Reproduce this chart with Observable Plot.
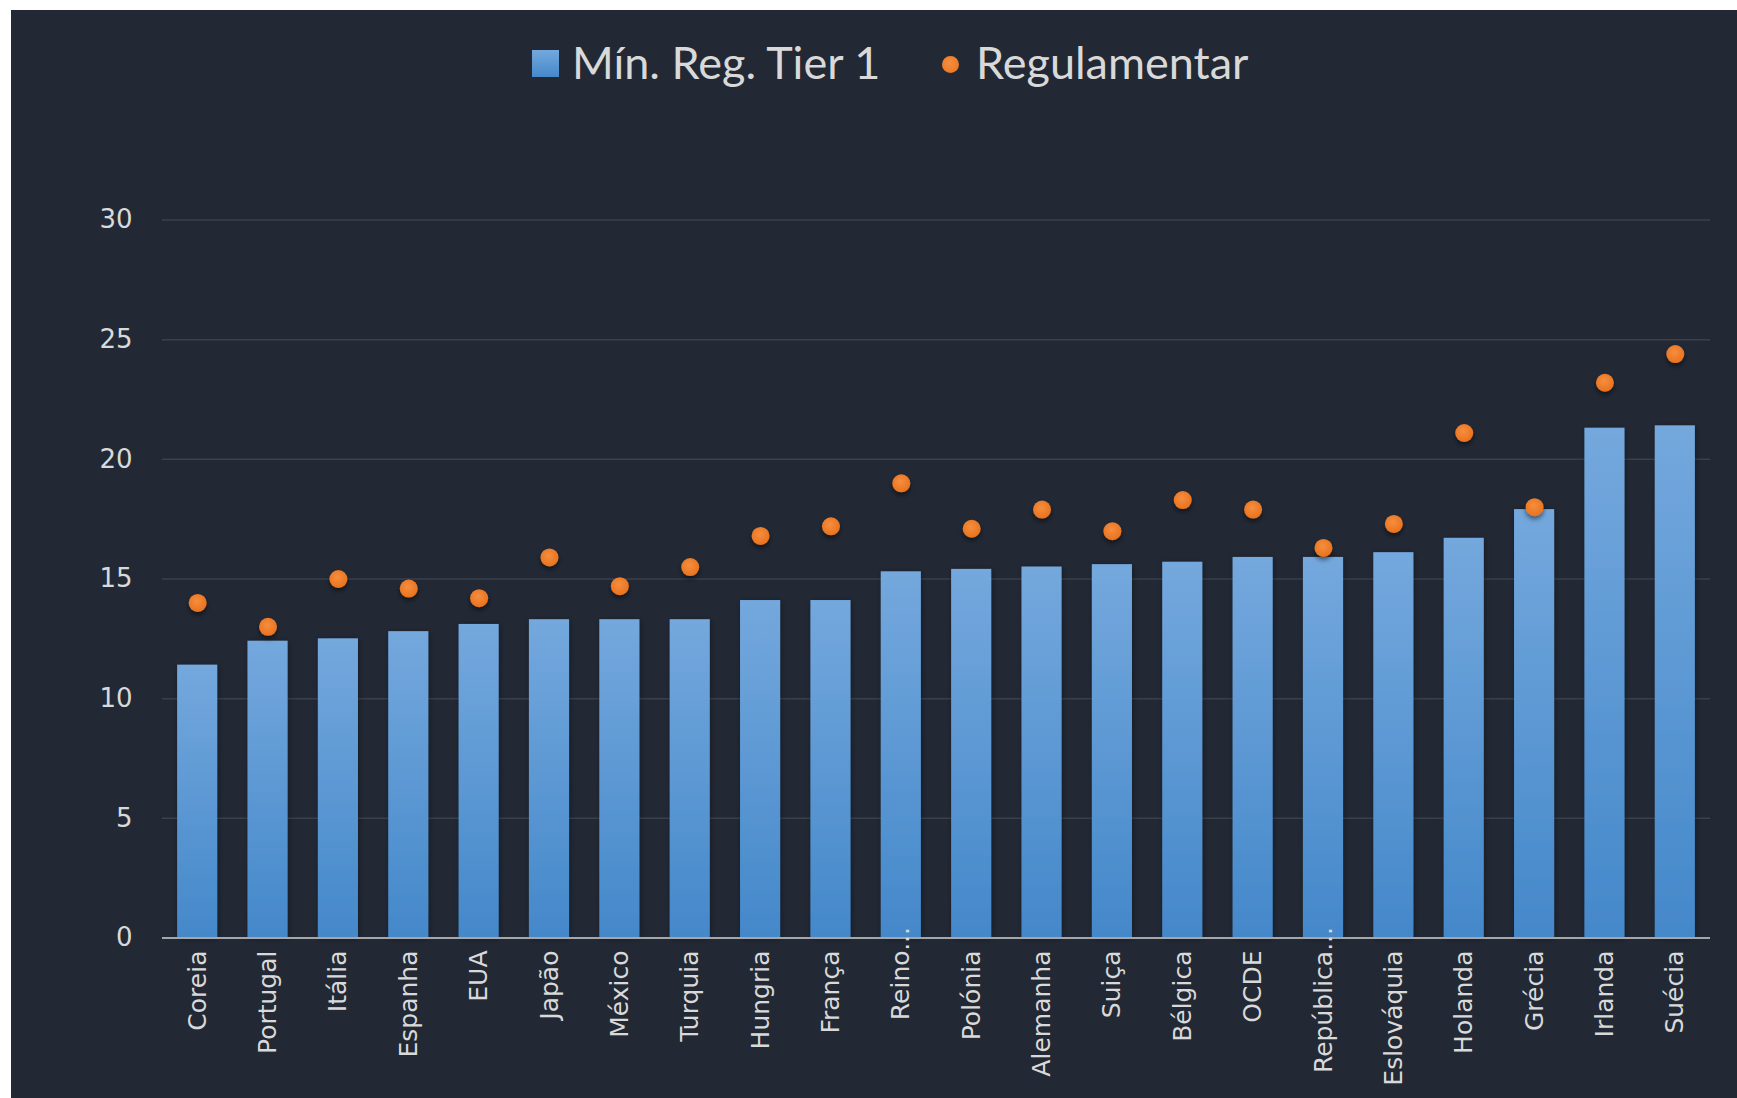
<!DOCTYPE html>
<html>
<head>
<meta charset="utf-8">
<script src="https://cdn.jsdelivr.net/npm/d3@7"></script>
<script src="https://cdn.jsdelivr.net/npm/@observablehq/plot@0.6"></script>
<style>
  html, body { margin: 0; padding: 0; background: #ffffff; }
  #frame {
    position: absolute; left: 11px; top: 10px;
    width: 1726px; height: 1088px;
    background: #222935; overflow: hidden;
  }
  #legend { position: relative; height: 110px; font-family: Lato, "Open Sans", sans-serif; color: #d9d9d9; }
  #legend .swatch-bar {
    position: absolute; left: 521px; top: 40px; width: 27px; height: 27px;
    background: linear-gradient(#74a8dd, #4589cb);
  }
  #legend .swatch-dot {
    position: absolute; left: 931px; top: 46px; width: 17px; height: 17px; border-radius: 50%;
    background: radial-gradient(circle at 45% 40%, #f68d3d, #e9731f);
  }
  #legend .label {
    position: absolute; top: 27px; font-size: 45px; line-height: 50px; white-space: nowrap;
  }
  #chart svg { display: block; }
</style>
</head>
<body>
<div id="frame">
  <div id="legend">
    <div class="swatch-bar"></div>
    <div class="label" style="left:561px">Mín. Reg. Tier 1</div>
    <div class="swatch-dot"></div>
    <div class="label" style="left:965px">Regulamentar</div>
  </div>
  <div id="chart"></div>
</div>
<script>
// Capital ratios by country: minimum regulatory Tier 1 (bars) and regulatory ratio (dots)
const categories = ["Coreia", "Portugal", "Itália", "Espanha", "EUA", "Japão", "México", "Turquia",
  "Hungria", "França", "Reino...", "Polónia", "Alemanha", "Suiça", "Bélgica", "OCDE",
  "República...", "Eslováquia", "Holanda", "Grécia", "Irlanda", "Suécia"];
const tier1 = [11.4, 12.4, 12.5, 12.8, 13.1, 13.3, 13.3, 13.3, 14.1, 14.1, 15.3, 15.4,
  15.5, 15.6, 15.7, 15.9, 15.9, 16.1, 16.7, 17.9, 21.3, 21.4];
const regulamentar = [14.0, 13.0, 15.0, 14.6, 14.2, 15.9, 14.7, 15.5, 16.8, 17.2, 19.0, 17.1,
  17.9, 17.0, 18.3, 17.9, 16.3, 17.3, 21.1, 18.0, 23.2, 24.4];
const yTicks = [0, 5, 10, 15, 20, 25, 30];

const rows = categories.map((c, i) => ({country: c, tier1: tier1[i], reg: regulamentar[i]}));
const truncated = categories.filter(c => c.endsWith("..."));
const full = categories.filter(c => !c.endsWith("..."));

const labelColor = "#d9d9d9";

// gradient + shadow definitions used by the bars and dots
const defs = () => {
  const d = d3.create("svg:defs");
  const lg = d.append("linearGradient").attr("id", "barGrad")
    .attr("x1", 0).attr("y1", 0).attr("x2", 0).attr("y2", 1);
  lg.append("stop").attr("offset", "0%").attr("stop-color", "#74a8dd");
  lg.append("stop").attr("offset", "100%").attr("stop-color", "#4488ca");
  const rg = d.append("radialGradient").attr("id", "dotGrad")
    .attr("cx", "45%").attr("cy", "40%").attr("r", "60%");
  rg.append("stop").attr("offset", "0%").attr("stop-color", "#f68e3e");
  rg.append("stop").attr("offset", "100%").attr("stop-color", "#e8721e");
  const f1 = d.append("filter").attr("id", "barShadow")
    .attr("x", "-30%").attr("y", "-10%").attr("width", "160%").attr("height", "120%");
  f1.append("feDropShadow").attr("dx", 1).attr("dy", 1).attr("stdDeviation", 3)
    .attr("flood-color", "#000").attr("flood-opacity", 0.35);
  const f2 = d.append("filter").attr("id", "dotShadow")
    .attr("x", "-50%").attr("y", "-50%").attr("width", "200%").attr("height", "220%");
  f2.append("feDropShadow").attr("dx", 0).attr("dy", 3).attr("stdDeviation", 2.5)
    .attr("flood-color", "#000").attr("flood-opacity", 0.5);
  return d.node();
};

const chart = Plot.plot({
  width: 1726,
  height: 978,
  marginTop: 99.5,
  marginBottom: 160.5,
  marginLeft: 151,
  marginRight: 27,
  style: {background: "transparent", color: labelColor, fontFamily: "'DejaVu Sans', sans-serif", fontSize: "25px"},
  x: {domain: categories, paddingInner: 0.43, paddingOuter: 0.215, round: false, axis: null},
  y: {domain: [0, 30], axis: null},
  marks: [
    defs,
    Plot.gridY(yTicks.filter(t => t > 0), {stroke: "#3a404c", strokeOpacity: 1, strokeWidth: 1.5}),
    Plot.axisY(yTicks, {tickSize: 0, tickPadding: 30, label: null, fontSize: 26, fill: labelColor}),
    Plot.barY(rows, {x: "country", y: "tier1", fill: "url(#barGrad)"}),
    Plot.ruleY([0], {stroke: "#a4a6aa", strokeWidth: 2}),
    Plot.dot(rows, {x: "country", y: "reg", r: 9, fill: "url(#dotGrad)", stroke: "none"}),
    Plot.text(full, {x: d => d, frameAnchor: "bottom", rotate: -90, textAnchor: "end",
      lineAnchor: "middle", dy: 12.5, fill: labelColor, fontSize: 25}),
    Plot.text(truncated, {x: d => d, frameAnchor: "bottom", rotate: -90, textAnchor: "end",
      lineAnchor: "middle", dy: -11, fill: labelColor, fontSize: 25})
  ]
});

chart.querySelectorAll('g[aria-label="bar"]').forEach(g => g.setAttribute("filter", "url(#barShadow)"));
chart.querySelectorAll('g[aria-label="dot"]').forEach(g => g.setAttribute("filter", "url(#dotShadow)"));
document.getElementById("chart").appendChild(chart);
</script>
</body>
</html>
